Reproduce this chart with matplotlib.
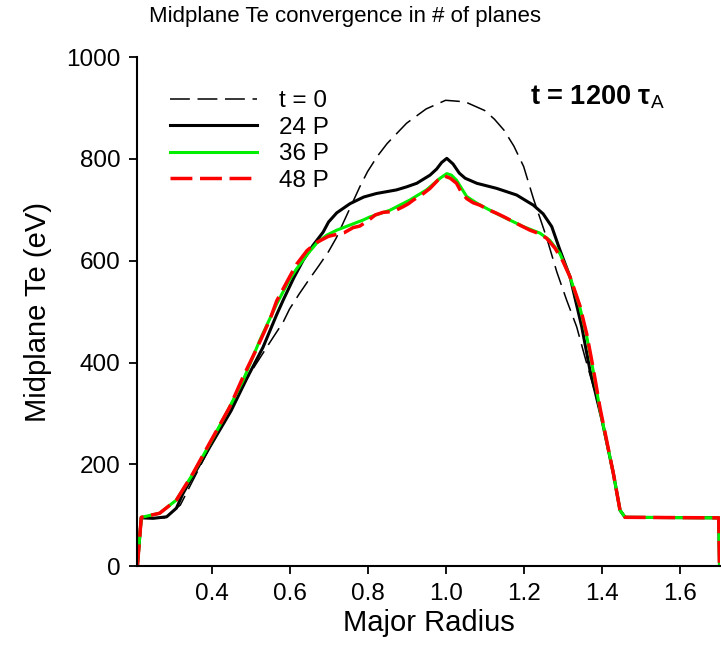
import matplotlib
matplotlib.use("Agg")
import matplotlib.pyplot as plt

plt.rcParams['font.family'] = ['Liberation Sans', 'DejaVu Sans']
plt.rcParams['mathtext.fontset'] = 'custom'
plt.rcParams['mathtext.rm'] = 'Liberation Sans'
plt.rcParams['mathtext.it'] = 'Liberation Sans:italic'
plt.rcParams['mathtext.bf'] = 'Liberation Sans:bold'

title = "Midplane Te convergence in # of planes"
xlabel = "Major Radius"
ylabel = "Midplane Te (eV)"
labels = ["t = 0", "24 P", "36 P", "48 P"]
annot = r"t = 1200 τ$_\mathrm{A}$"
xticks = [0.4, 0.6, 0.8, 1.0, 1.2, 1.4, 1.6]
yticks = [0, 200, 400, 600, 800, 1000]

# t = 0 (dashed black)
r0 = [0.21, 0.22, 0.28, 0.32, 0.36, 0.40, 0.45, 0.50, 0.55, 0.584, 0.60, 0.625, 0.65,
      0.675, 0.70, 0.72, 0.75, 0.78, 0.80, 0.825, 0.85, 0.875, 0.90, 0.95, 1.00, 1.05,
      1.10, 1.125, 1.15, 1.175, 1.20, 1.225, 1.259, 1.285, 1.31, 1.336, 1.357, 1.378,
      1.40, 1.43, 1.447, 1.46, 1.70, 1.702]
t0 = [0, 95, 95, 120, 180, 240, 315, 380, 440, 480, 505, 535, 563,
      590, 618, 645, 695, 745, 775, 805, 830, 850, 870, 898, 915, 912,
      895, 878, 856, 825, 785, 722, 645, 578, 523, 470, 411, 355,
      290, 182, 110, 96, 95, 0]

# 24 P (solid black)
r24 = [0.21, 0.22, 0.25, 0.285, 0.31, 0.327, 0.36, 0.40, 0.45, 0.49, 0.532, 0.567, 0.584,
       0.61, 0.635, 0.66, 0.686, 0.70, 0.721, 0.755, 0.79, 0.823, 0.874, 0.90, 0.926,
       0.96, 0.977, 0.99, 1.003, 1.019, 1.035, 1.05, 1.08, 1.131, 1.182, 1.225, 1.25,
       1.272, 1.293, 1.319, 1.349, 1.37, 1.40, 1.43, 1.447, 1.46, 1.70, 1.702]
t24 = [0, 95, 94, 97, 114, 143, 187, 240, 305, 368, 430, 494, 523,
       565, 601, 630, 656, 676, 694, 712, 725, 732, 739, 745, 752,
       768, 780, 793, 801, 790, 772, 762, 752, 742, 729, 709, 692,
       667, 621, 568, 470, 385, 290, 182, 110, 96, 95, 0]

# 36 P (solid green)
r36 = [0.21, 0.22, 0.267, 0.31, 0.353, 0.396, 0.438, 0.481, 0.524, 0.567, 0.60, 0.618,
       0.645, 0.669, 0.695, 0.721, 0.755, 0.789, 0.806, 0.857, 0.908, 0.951, 0.986,
       1.003, 1.015, 1.028, 1.054, 1.08, 1.114, 1.148, 1.199, 1.242, 1.267, 1.293,
       1.319, 1.344, 1.362, 1.378, 1.396, 1.43, 1.447, 1.46, 1.70, 1.702]
t36 = [0, 96, 104, 130, 182, 241, 300, 365, 444, 515, 563, 584,
       612, 634, 650, 660, 670, 680, 686, 699, 719, 739, 762,
       771, 768, 758, 726, 713, 699, 686, 667, 654, 640, 614,
       568, 509, 450, 385, 306, 182, 110, 96, 95, 0]

# 48 P (dashed red)
r48 = [0.21, 0.22, 0.267, 0.31, 0.353, 0.396, 0.447, 0.481, 0.515, 0.55, 0.567, 0.60,
       0.618, 0.645, 0.67, 0.70, 0.74, 0.763, 0.78, 0.80, 0.82, 0.84, 0.857, 0.875,
       0.891, 0.905, 0.917, 0.94, 0.96, 0.98, 0.998, 1.012, 1.028, 1.04, 1.054, 1.07,
       1.088, 1.11, 1.131, 1.15, 1.165, 1.19, 1.216, 1.24, 1.259, 1.28, 1.30, 1.319,
       1.344, 1.362, 1.378, 1.396, 1.43, 1.447, 1.46, 1.70, 1.702]
t48 = [0, 96, 104, 130, 183, 243, 313, 372, 426, 485, 521, 568,
       593, 620, 636, 648, 655, 665, 668, 678, 690, 695, 696, 700,
       706, 712, 719, 730, 742, 758, 766, 762, 752, 735, 722, 714,
       709, 700, 693, 686, 680, 670, 660, 653, 644, 625, 600, 568,
       512, 455, 390, 310, 182, 110, 96, 95, 0]

fig = plt.figure(figsize=(7.21, 6.63), dpi=100)
ax = fig.add_axes([0.190, 0.146, 0.809, 0.768])

ax.plot(r0, t0, color='black', lw=1.1, linestyle=(0, (13, 5)), label=labels[0])
ax.plot(r24, t24, color='black', lw=2.2, label=labels[1])
ax.plot(r36, t36, color='#00ee00', lw=2.2, label=labels[2])
ax.plot(r48, t48, color='#ff0000', lw=2.5, linestyle=(0, (6.3, 2.2)), label=labels[3])

ax.set_xlim(0.209, 1.704)
ax.set_ylim(0, 1000)
ax.set_xticks(xticks)
ax.set_xticklabels([f"{v:.1f}" for v in xticks])
ax.set_yticks(yticks)

for s in ['top', 'right']:
    ax.spines[s].set_visible(False)
for s in ['left', 'bottom']:
    ax.spines[s].set_linewidth(1.5)
ax.tick_params(axis='both', direction='out', length=6, width=1.3, labelsize=17.5, pad=6)

ax.set_xlabel(xlabel, fontsize=21, labelpad=3)
ax.set_ylabel(ylabel, fontsize=21, labelpad=10)
fig.text(0.478, 0.975, title, fontsize=16, ha='center', va='center')

ax.legend(loc='center left', bbox_to_anchor=(0.056, 0.835), frameon=False,
          fontsize=17.5, handlelength=3.6, handletextpad=0.9, labelspacing=0.18,
          borderaxespad=0, borderpad=0)

ax.text(0.674, 0.921, annot, transform=ax.transAxes, fontsize=19.5, fontweight='bold',
        ha='left', va='center')

fig.savefig("out.png", dpi=100)
